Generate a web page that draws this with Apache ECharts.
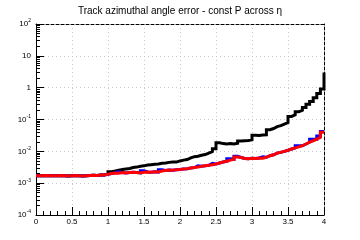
<!DOCTYPE html>
<html>
<head>
<meta charset="utf-8">
<script src="https://cdn.jsdelivr.net/npm/echarts@6/dist/echarts.min.js"></script>
<style>
  html, body { margin: 0; padding: 0; background: #fff; }
  #container { width: 360px; height: 240px; }
</style>
</head>
<body>
<div id="container"></div>
<script>
// histogram bins: 80 bins of width 0.05 over eta 0..4
var binWidth = 0.05;
var binLow = [];
for (var i = 0; i < 80; i++) binLow.push(+(i * binWidth).toFixed(2));

// red series (x1e-3)
var redVals = [1.72,1.70,1.73,1.71,1.72,1.70,1.74,1.71,1.69,1.72,1.73,1.70,1.68,1.72,1.74,1.76,1.75,1.80,1.82,1.90,
  2.00,2.10,2.05,2.15,2.10,2.15,2.20,2.15,2.10,2.20,2.25,2.20,2.30,2.25,2.40,2.50,2.60,2.55,2.65,2.70,
  2.80,2.85,3.00,3.10,3.20,3.40,3.50,3.65,3.80,4.00,4.30,4.60,4.90,5.30,5.60,6.60,6.40,6.00,5.90,6.10,
  6.00,6.20,6.10,6.50,7.30,7.80,8.80,9.30,10.0,10.8,11.8,12.8,13.8,15.0,17.0,19.5,21.5,24.0,27.5,40.0];
// blue series (x1e-3), mostly hidden under red
var blueVals = [1.72,1.70,1.73,1.71,1.72,1.70,1.74,1.71,1.69,1.72,1.73,1.70,1.68,1.72,1.74,1.76,1.75,1.80,1.82,1.90,
  2.00,2.10,2.30,2.15,2.10,2.15,2.20,2.15,2.10,2.45,2.25,2.20,2.30,2.25,2.65,2.50,2.60,2.55,2.65,2.70,
  2.80,2.85,3.00,3.10,3.50,3.40,3.50,3.65,4.20,4.00,4.30,4.60,4.90,5.80,5.60,7.00,6.40,6.00,5.90,6.10,
  6.00,6.20,6.70,6.50,7.30,7.80,8.80,9.30,10.0,10.8,11.8,12.8,15.0,15.0,17.0,19.5,24.0,24.0,30.5,42.0];
// black series (x1e-3)
var blackVals = [1.72,1.70,1.73,1.71,1.72,1.70,1.74,1.71,1.69,1.72,1.73,1.70,1.68,1.72,1.74,1.76,1.75,1.80,1.82,1.95,
  2.30,2.40,2.55,2.70,2.80,2.90,3.10,3.20,3.40,3.50,3.70,3.80,3.90,4.00,4.20,4.30,4.50,4.60,4.60,5.00,
  5.30,5.50,6.20,6.80,7.00,7.50,7.90,8.80,9.80,12.0,18.5,17.5,17.0,17.5,17.0,18.0,21.0,21.5,22.0,23.0,
  32.0,31.5,32.5,33.0,48.0,52.0,60.0,64.0,72.0,80.0,125,140,175,195,240,300,370,480,650,900];
// value reached at the upper edge eta = 4 (last black step spikes up)
var edgeVals = { black: 3000, blue: 42.0, red: 40.0 };

var yTicks = [1e-4, 1e-3, 1e-2, 1e-1, 1, 10, 100];
var yMinor = [];
for (var d = 0; d < yTicks.length - 1; d++) {
  for (var m = 2; m <= 9; m++) yMinor.push(+(m * yTicks[d]).toPrecision(3));
}

function toSteps(vals, edge) {
  var pts = vals.map(function (v, k) { return [binLow[k], v * 1e-3]; });
  pts.push([4, edge * 1e-3]);
  return pts;
}

var chart = echarts.init(document.getElementById('container'), null, { renderer: 'canvas' });
var font = 'Liberation Sans';

function histSeries(name, color, vals, edge) {
  return {
    name: name,
    type: 'line',
    step: 'end',
    data: toSteps(vals, edge),
    showSymbol: false,
    symbol: 'none',
    animation: false,
    lineStyle: { color: color, width: 3, cap: 'butt', join: 'miter' },
    z: 3
  };
}

chart.setOption({
  animation: false,
  title: {
    text: 'Track azimuthal angle error - const P across η',
    left: 'center',
    top: 1,
    textStyle: { fontFamily: font, fontSize: 10, fontWeight: 'normal', color: '#000' }
  },
  grid: { left: 36, right: 36, top: 24, bottom: 25, containLabel: false },
  xAxis: [{
    type: 'value',
    min: 0, max: 4, interval: 0.5,
    axisLine: { lineStyle: { color: '#000', width: 1 } },
    axisTick: { inside: true, length: 8, lineStyle: { color: '#000' } },
    minorTick: { show: true, splitNumber: 5, length: 4, lineStyle: { color: '#000' } },
    axisLabel: { fontFamily: font, fontSize: 8, color: '#000', margin: 3,
      formatter: function (v) { return String(v); } },
    splitLine: { show: true, lineStyle: { color: '#c8c8c8', type: [1, 3], width: 1 } }
  }, {
    type: 'value', position: 'top',
    min: 0, max: 4,
    axisLine: { show: true, lineStyle: { color: '#000', type: [3, 2], width: 1 } },
    axisTick: { show: false }, axisLabel: { show: false }, splitLine: { show: false }
  }],
  yAxis: [{
    type: 'log', logBase: 10,
    min: 1e-4, max: 100, interval: 1,
    axisLine: { show: true, lineStyle: { color: '#000', width: 1 } },
    axisTick: { show: true, inside: true, length: 8, lineStyle: { color: '#000' } },
    axisLabel: {
      fontFamily: font, fontSize: 8, color: '#000', margin: 5,
      formatter: function (v) {
        var e = Math.round(Math.log10(v));
        if (e === 0) return '1';
        if (e === 1) return '10';
        return '10{sup|' + e + '}';
      },
      rich: { sup: { fontFamily: font, fontSize: 5, verticalAlign: 'top', padding: [0, 0, 6, 0], color: '#000' } }
    },
    splitLine: { show: true, lineStyle: { color: '#c8c8c8', type: [1, 3], width: 1 } }
  }, {
    type: 'log', logBase: 10,
    min: 1e-4, max: 100, position: 'left',
    axisLine: { show: false },
    axisTick: { show: true, inside: true, length: 4, customValues: yMinor, lineStyle: { color: '#000' } },
    axisLabel: { show: false },
    splitLine: { show: false }
  }, {
    type: 'log', logBase: 10,
    min: 1e-4, max: 100, position: 'right',
    axisLine: { show: true, lineStyle: { color: '#000', type: [3, 2], width: 1 } },
    axisTick: { show: false }, axisLabel: { show: false }, splitLine: { show: false }
  }],
  series: [
    histSeries('black', '#000000', blackVals, edgeVals.black),
    histSeries('blue', '#0000ff', blueVals, edgeVals.blue),
    histSeries('red', '#ff0000', redVals, edgeVals.red)
  ]
});
</script>
</body>
</html>
